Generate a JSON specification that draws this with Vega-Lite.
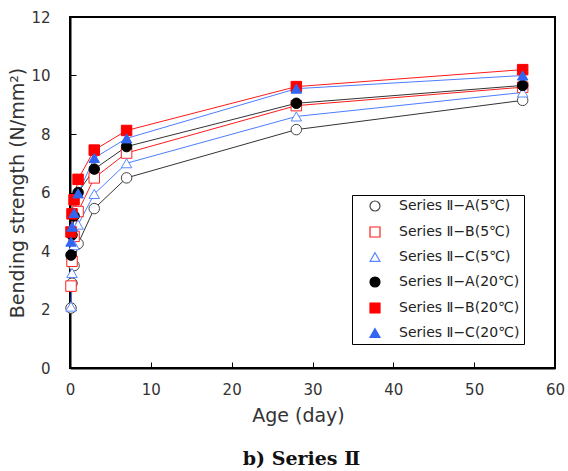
{
  "$schema": "https://vega.github.io/schema/vega-lite/v6.json",
  "width": 485,
  "height": 351,
  "autosize": "none",
  "padding": {"left": 70, "top": 17, "right": 13, "bottom": 103},
  "background": "white",
  "title": {"text": "b) Series Ⅱ", "orient": "bottom", "anchor": "middle", "font": "DejaVu Serif", "fontWeight": "bold", "fontSize": 19, "color": "#111", "offset": 25, "dx": -11},
  "config": {
    "view": {"stroke": "black", "strokeWidth": 2},
    "axis": {"grid": false, "domainColor": "black", "domainWidth": 2, "tickColor": "black", "tickWidth": 1, "labelFont": "DejaVu Sans", "labelFontSize": 15, "labelColor": "#333", "titleFont": "DejaVu Sans", "titleFontSize": 19, "titleFontWeight": "normal", "titleColor": "#333"},
    "legend": {"orient": "none", "legendX": 282, "legendY": 178, "strokeColor": "black", "fillColor": "white", "padding": 4, "symbolOffset": 12, "labelOffset": 17, "rowPadding": 10, "symbolSize": 100, "symbolStrokeWidth": 1.2, "labelFont": "DejaVu Sans", "labelFontSize": 14, "labelColor": "#222", "labelLimit": 300}
  },
  "datasets": {
    "pts": [
      {"series": "Series Ⅱ−A(5℃)", "age": 0.125, "strength": 2.05},
      {"series": "Series Ⅱ−A(5℃)", "age": 0.25, "strength": 2.9},
      {"series": "Series Ⅱ−A(5℃)", "age": 0.5, "strength": 3.5},
      {"series": "Series Ⅱ−A(5℃)", "age": 1, "strength": 4.25},
      {"series": "Series Ⅱ−A(5℃)", "age": 3, "strength": 5.45},
      {"series": "Series Ⅱ−A(5℃)", "age": 7, "strength": 6.5},
      {"series": "Series Ⅱ−A(5℃)", "age": 28, "strength": 8.15},
      {"series": "Series Ⅱ−A(5℃)", "age": 56, "strength": 9.15},
      {"series": "Series Ⅱ−B(5℃)", "age": 0.125, "strength": 2.8},
      {"series": "Series Ⅱ−B(5℃)", "age": 0.25, "strength": 3.65},
      {"series": "Series Ⅱ−B(5℃)", "age": 0.5, "strength": 4.5},
      {"series": "Series Ⅱ−B(5℃)", "age": 1, "strength": 5.35},
      {"series": "Series Ⅱ−B(5℃)", "age": 3, "strength": 6.5},
      {"series": "Series Ⅱ−B(5℃)", "age": 7, "strength": 7.35},
      {"series": "Series Ⅱ−B(5℃)", "age": 28, "strength": 8.97},
      {"series": "Series Ⅱ−B(5℃)", "age": 56, "strength": 9.6},
      {"series": "Series Ⅱ−C(5℃)", "age": 0.125, "strength": 2.1},
      {"series": "Series Ⅱ−C(5℃)", "age": 0.25, "strength": 3.25},
      {"series": "Series Ⅱ−C(5℃)", "age": 0.5, "strength": 4.2},
      {"series": "Series Ⅱ−C(5℃)", "age": 1, "strength": 4.9},
      {"series": "Series Ⅱ−C(5℃)", "age": 3, "strength": 5.95},
      {"series": "Series Ⅱ−C(5℃)", "age": 7, "strength": 7.0},
      {"series": "Series Ⅱ−C(5℃)", "age": 28, "strength": 8.6},
      {"series": "Series Ⅱ−C(5℃)", "age": 56, "strength": 9.42},
      {"series": "Series Ⅱ−A(20℃)", "age": 0.125, "strength": 3.86},
      {"series": "Series Ⅱ−A(20℃)", "age": 0.25, "strength": 4.55},
      {"series": "Series Ⅱ−A(20℃)", "age": 0.5, "strength": 5.2},
      {"series": "Series Ⅱ−A(20℃)", "age": 1, "strength": 6.0},
      {"series": "Series Ⅱ−A(20℃)", "age": 3, "strength": 6.8},
      {"series": "Series Ⅱ−A(20℃)", "age": 7, "strength": 7.57},
      {"series": "Series Ⅱ−A(20℃)", "age": 28, "strength": 9.05},
      {"series": "Series Ⅱ−A(20℃)", "age": 56, "strength": 9.66},
      {"series": "Series Ⅱ−B(20℃)", "age": 0.125, "strength": 4.65},
      {"series": "Series Ⅱ−B(20℃)", "age": 0.25, "strength": 5.27},
      {"series": "Series Ⅱ−B(20℃)", "age": 0.5, "strength": 5.75},
      {"series": "Series Ⅱ−B(20℃)", "age": 1, "strength": 6.45},
      {"series": "Series Ⅱ−B(20℃)", "age": 3, "strength": 7.45},
      {"series": "Series Ⅱ−B(20℃)", "age": 7, "strength": 8.12},
      {"series": "Series Ⅱ−B(20℃)", "age": 28, "strength": 9.62},
      {"series": "Series Ⅱ−B(20℃)", "age": 56, "strength": 10.2},
      {"series": "Series Ⅱ−C(20℃)", "age": 0.125, "strength": 4.32},
      {"series": "Series Ⅱ−C(20℃)", "age": 0.25, "strength": 4.83},
      {"series": "Series Ⅱ−C(20℃)", "age": 0.5, "strength": 5.3},
      {"series": "Series Ⅱ−C(20℃)", "age": 1, "strength": 5.97},
      {"series": "Series Ⅱ−C(20℃)", "age": 3, "strength": 7.18},
      {"series": "Series Ⅱ−C(20℃)", "age": 7, "strength": 7.85},
      {"series": "Series Ⅱ−C(20℃)", "age": 28, "strength": 9.55},
      {"series": "Series Ⅱ−C(20℃)", "age": 56, "strength": 10.0}
    ]
  },
  "data": {"name": "pts"},
  "encoding": {
    "x": {"field": "age", "type": "quantitative", "title": "Age (day)",
      "scale": {"domain": [0, 60], "nice": false, "zero": true},
      "axis": {"values": [0, 10, 20, 30, 40, 50, 60], "tickSize": -6, "labelPadding": 20, "titlePadding": 9, "labelFlush": false, "titleX": 228}},
    "y": {"field": "strength", "type": "quantitative", "title": "Bending strength (N/mm²)",
      "scale": {"domain": [0, 12], "nice": false},
      "axis": {"values": [0, 2, 4, 6, 8, 10, 12], "tickSize": -6, "labelPadding": 26, "titlePadding": 3, "labelFlush": false}}
  },
  "layer": [
    {
      "mark": {"type": "line", "strokeWidth": 1},
      "encoding": {
        "detail": {"field": "series", "type": "nominal"},
        "color": {"condition": [{"test": "indexof(datum.series, 'A(') >= 0", "value": "#333333"}, {"test": "indexof(datum.series, 'B(') >= 0", "value": "#ff1a1a"}], "value": "#4d7dff"}
      }
    },
    {
      "mark": {"type": "point", "filled": true, "opacity": 1, "size": 110, "strokeWidth": 1},
      "encoding": {
        "shape": {"field": "series", "type": "nominal", "title": null,
          "scale": {"domain": ["Series Ⅱ−A(5℃)", "Series Ⅱ−B(5℃)", "Series Ⅱ−C(5℃)", "Series Ⅱ−A(20℃)", "Series Ⅱ−B(20℃)", "Series Ⅱ−C(20℃)"],
            "range": ["circle", "square", "triangle-up", "circle", "square", "triangle-up"]}},
        "fill": {"field": "series", "type": "nominal", "title": null,
          "scale": {"domain": ["Series Ⅱ−A(5℃)", "Series Ⅱ−B(5℃)", "Series Ⅱ−C(5℃)", "Series Ⅱ−A(20℃)", "Series Ⅱ−B(20℃)", "Series Ⅱ−C(20℃)"],
            "range": ["#ffffff", "#ffffff", "#ffffff", "#000000", "#ff0000", "#3366f0"]}},
        "stroke": {"field": "series", "type": "nominal", "title": null,
          "scale": {"domain": ["Series Ⅱ−A(5℃)", "Series Ⅱ−B(5℃)", "Series Ⅱ−C(5℃)", "Series Ⅱ−A(20℃)", "Series Ⅱ−B(20℃)", "Series Ⅱ−C(20℃)"],
            "range": ["#444444", "#ff2020", "#5a88ff", "#000000", "#ff0000", "#3366f0"]}}
      }
    }
  ]
}
